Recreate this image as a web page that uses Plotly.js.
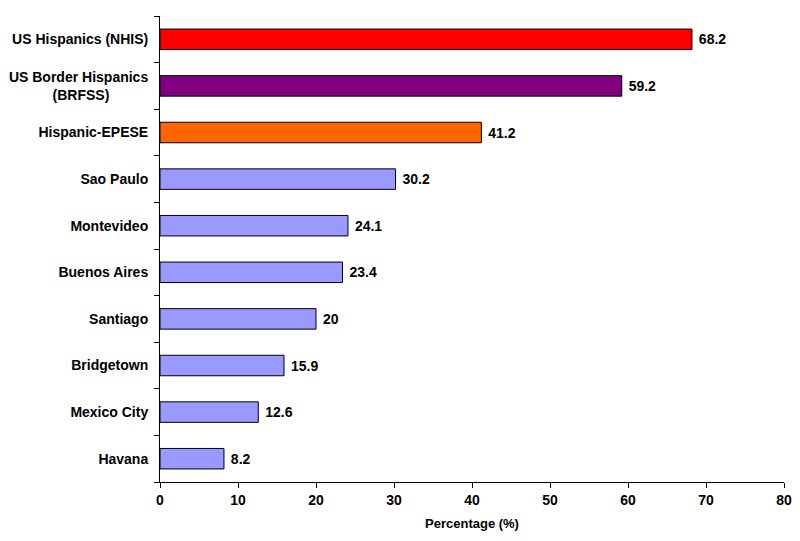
<!DOCTYPE html>
<html>
<head>
<meta charset="utf-8">
<script src="https://cdn.plot.ly/plotly-3.0.1.min.js"></script>
<style>html,body{margin:0;padding:0;background:#fff;}#chart{width:800px;height:541px;}</style>
</head>
<body>
<div id="chart"></div>
<script>
const categories = ["US Hispanics (NHIS)", "US Border Hispanics<br>(BRFSS)\u00a0\u00a0\u00a0\u00a0\u00a0\u00a0\u00a0\u00a0\u00a0\u00a0", "Hispanic-EPESE", "Sao Paulo", "Montevideo", "Buenos Aires", "Santiago", "Bridgetown", "Mexico City", "Havana"];
const values = [68.2, 59.2, 41.2, 30.2, 24.1, 23.4, 20, 15.9, 12.6, 8.2];
const barColors = ["#FF0000", "#800080", "#FF6600", "#9999FF", "#9999FF", "#9999FF", "#9999FF", "#9999FF", "#9999FF", "#9999FF"];
const xTicks = [0, 10, 20, 30, 40, 50, 60, 70, 80];

const font = "Liberation Sans, Arial, sans-serif";
const trace = {
  type: "bar",
  orientation: "h",
  y: categories,
  x: values,
  width: 0.44,
  marker: {color: barColors, line: {color: "#000", width: 1}},
  text: values.map(v => " " + v),
  textposition: "outside",
  cliponaxis: false,
  textfont: {family: font, size: 14, color: "#000", weight: "bold"},
  hoverinfo: "none"
};
const layout = {
  width: 800, height: 541,
  margin: {l: 160, r: 16, t: 16, b: 59},
  paper_bgcolor: "#fff", plot_bgcolor: "#fff",
  showlegend: false,
  font: {family: font, color: "#000"},
  xaxis: {
    range: [0, 80], tickvals: xTicks, ticktext: xTicks.map(String),
    showgrid: false, zeroline: false, showline: true, linecolor: "#000", linewidth: 1,
    ticks: "outside", ticklen: 5, tickcolor: "#000",
    tickfont: {family: font, size: 14, weight: "bold"},
    title: {text: "Percentage (%)", font: {family: font, size: 13, weight: "bold"}, standoff: 12}
  },
  yaxis: {
    type: "category", categoryorder: "array", categoryarray: categories.slice().reverse(),
    range: [-0.5, 9.5],
    showgrid: false, zeroline: false, showline: true, linecolor: "#000", linewidth: 1,
    ticks: "outside", ticklen: 5, tickcolor: "#000", tickson: "boundaries",
    ticklabelstandoff: 8,
    tickfont: {family: font, size: 14, weight: "bold"}
  }
};
Plotly.newPlot("chart", [trace], layout, {displayModeBar: false, staticPlot: true});
</script>
</body>
</html>
